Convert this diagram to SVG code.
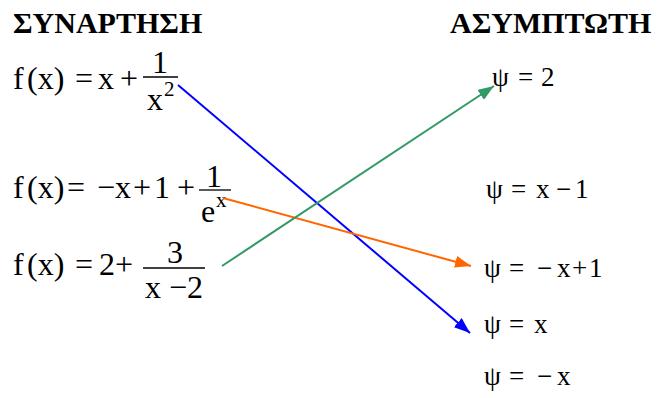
<svg xmlns="http://www.w3.org/2000/svg" width="657" height="398" viewBox="0 0 657 398">
<style>
  .h { font-family: "Liberation Serif", "Times New Roman", serif; font-weight: bold; font-size: 30px; fill: #000; }
  .m { font-family: "Liberation Serif", "Times New Roman", serif; font-size: 32px; fill: #000; }
  .s { font-family: "Liberation Serif", "Times New Roman", serif; font-size: 21px; fill: #000; }
  .r { font-family: "Liberation Serif", "Times New Roman", serif; font-size: 27px; fill: #000; }
  .bar { stroke: #000; stroke-width: 1.3; }
  .c { fill: none; stroke-width: 2; }
</style>
<defs>
  <marker id="aBlue" viewBox="0 0 16 12" refX="16" refY="6" markerWidth="16" markerHeight="12" markerUnits="userSpaceOnUse" orient="auto"><path d="M0,0 L16,6 L0,12 Z" fill="#0000FF"/></marker>
  <marker id="aOrange" viewBox="0 0 16 12" refX="16" refY="6" markerWidth="16" markerHeight="12" markerUnits="userSpaceOnUse" orient="auto"><path d="M0,0 L16,6 L0,12 Z" fill="#FF6600"/></marker>
  <marker id="aGreen" viewBox="0 0 16 12" refX="16" refY="6" markerWidth="16" markerHeight="12" markerUnits="userSpaceOnUse" orient="auto"><path d="M0,0 L16,6 L0,12 Z" fill="#339966"/></marker>
</defs>
<rect width="657" height="398" fill="#fff"/>

<g id="header-functions"><text class="h" x="13" y="33">ΣΥΝΑΡΤΗΣΗ</text></g>
<g id="header-asymptotes"><text class="h" x="450" y="33">ΑΣΥΜΠΤΩΤΗ</text></g>

<g id="f1">
  <text class="m" y="89"><tspan x="13">f</tspan><tspan x="27">(x)</tspan><tspan x="75">=</tspan><tspan x="98">x</tspan><tspan x="120">+</tspan></text>
  <text class="m" x="152" y="73">1</text>
  <line class="bar" x1="143" y1="77" x2="178" y2="77"/>
  <text class="m" x="147" y="110">x</text>
  <text class="s" x="164" y="96">2</text>
</g>

<g id="f2">
  <text class="m" y="198"><tspan x="13">f</tspan><tspan x="27">(x)</tspan><tspan x="67">=</tspan><tspan x="97">−</tspan><tspan x="115">x</tspan><tspan x="133">+</tspan><tspan x="154">1</tspan><tspan x="177">+</tspan></text>
  <text class="m" x="206" y="187">1</text>
  <line class="bar" x1="199" y1="190" x2="231" y2="190"/>
  <text class="m" x="201" y="222">e</text>
  <text class="s" x="216" y="207">x</text>
</g>

<g id="f3">
  <text class="m" y="275"><tspan x="13">f</tspan><tspan x="27">(x)</tspan><tspan x="75">=</tspan><tspan x="99">2</tspan><tspan x="115">+</tspan></text>
  <text class="m" x="167" y="263">3</text>
  <line class="bar" x1="143" y1="268" x2="205" y2="268"/>
  <text class="m" y="298"><tspan x="145">x</tspan><tspan x="169">−</tspan><tspan x="187">2</tspan></text>
</g>

<g id="a1"><text class="r" y="86"><tspan x="492">ψ</tspan><tspan x="518">=</tspan><tspan x="541">2</tspan></text></g>
<g id="a2"><text class="r" y="198"><tspan x="486">ψ</tspan><tspan x="511">=</tspan><tspan x="536">x</tspan><tspan x="556">−</tspan><tspan x="575">1</tspan></text></g>
<g id="a3"><text class="r" y="277"><tspan x="484">ψ</tspan><tspan x="509">=</tspan><tspan x="537">−</tspan><tspan x="557">x</tspan><tspan x="572">+</tspan><tspan x="589">1</tspan></text></g>
<g id="a4"><text class="r" y="333"><tspan x="484">ψ</tspan><tspan x="509">=</tspan><tspan x="534">x</tspan></text></g>
<g id="a5"><text class="r" y="385"><tspan x="484">ψ</tspan><tspan x="509">=</tspan><tspan x="537">−</tspan><tspan x="557">x</tspan></text></g>

<g id="connectors">
  <line class="c" x1="178" y1="85" x2="470" y2="333" stroke="#0000FF" marker-end="url(#aBlue)"/>
  <line class="c" x1="223" y1="198" x2="471" y2="266" stroke="#FF6600" marker-end="url(#aOrange)"/>
  <line class="c" x1="222" y1="266" x2="494" y2="86" stroke="#339966" marker-end="url(#aGreen)"/>
</g>
</svg>
